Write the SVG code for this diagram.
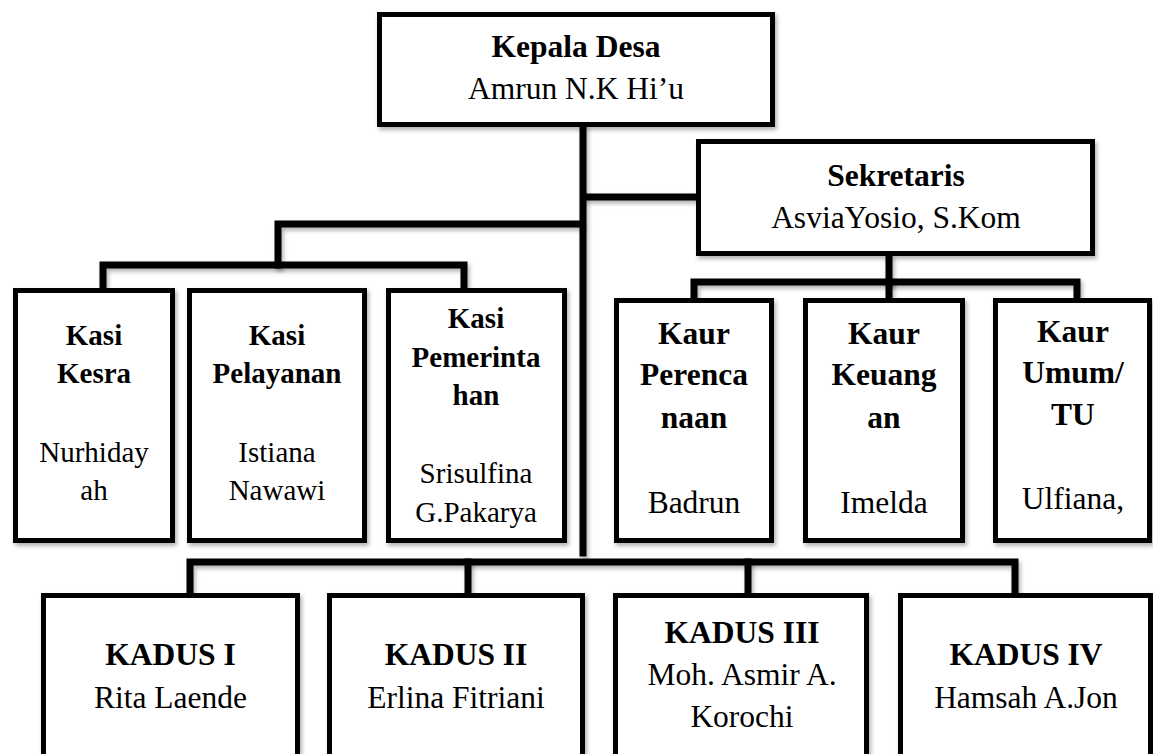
<svg xmlns="http://www.w3.org/2000/svg" width="1153" height="754" viewBox="0 0 1153 754">
<defs>
<filter id="sh" filterUnits="userSpaceOnUse" x="0" y="0" width="1153" height="754">
<feDropShadow dx="2" dy="3" stdDeviation="2" flood-color="#000" flood-opacity="0.3"/>
</filter>
<style>
.box{fill:#fff;stroke:#000;stroke-width:5;filter:url(#sh)}
.ln{fill:none;stroke:#000;stroke-width:7;stroke-linejoin:miter;stroke-linecap:square;filter:url(#sh)}
text{fill:#000;text-anchor:middle}
.b{font-weight:bold}
.f31{font-size:31.5px}
.f29{font-size:29px}
</style>
</defs>
<rect width="1153" height="754" fill="#fff"/>
<g id="connectors">
<path class="ln" d="M583,127 V553"/>
<path class="ln" d="M587,197 H697"/>
<path class="ln" d="M579,224 H278 V265"/>
<path class="ln" d="M103,287 V265 H464 V287"/>
<path class="ln" d="M889,258 V282"/>
<path class="ln" d="M694,297 V282 H1077 V297"/>
<path class="ln" d="M889,282 V297"/>
<path class="ln" d="M190,592 V562 H1015 V592"/>
<path class="ln" d="M468,562 V592"/>
<path class="ln" d="M748,562 V592"/>
</g>
<g font-family="'Liberation Serif', 'Times New Roman', 'DejaVu Serif', serif">
<g id="kepala-desa">
<rect class="box" x="379.5" y="14.5" width="393" height="110"/>
<text class="f31 b" x="576" y="57">Kepala Desa</text>
<text class="f31" x="576" y="99">Amrun N.K Hi’u</text>
</g>
<g id="sekretaris">
<rect class="box" x="698.5" y="141.5" width="394" height="112"/>
<text class="f31 b" x="896" y="186">Sekretaris</text>
<text class="f31" x="896" y="228">AsviaYosio, S.Kom</text>
</g>
<g id="kasi-kesra">
<rect class="box" x="15.5" y="290.5" width="157" height="250"/>
<text class="f29 b" x="94" y="345">Kasi</text>
<text class="f29 b" x="94" y="383">Kesra</text>
<text class="f29" x="94" y="462">Nurhiday</text>
<text class="f29" x="94" y="500">ah</text>
</g>
<g id="kasi-pelayanan">
<rect class="box" x="189.5" y="290.5" width="175" height="250"/>
<text class="f29 b" x="277" y="345">Kasi</text>
<text class="f29 b" x="277" y="383">Pelayanan</text>
<text class="f29" x="277" y="462">Istiana</text>
<text class="f29" x="277" y="500">Nawawi</text>
</g>
<g id="kasi-pemerintahan">
<rect class="box" x="388.5" y="290.5" width="176" height="250"/>
<text class="f29 b" x="476" y="328">Kasi</text>
<text class="f29 b" x="476" y="367">Pemerinta</text>
<text class="f29 b" x="476" y="405">han</text>
<text class="f29" x="476" y="483">Srisulfina</text>
<text class="f29" x="476" y="522">G.Pakarya</text>
</g>
<g id="kaur-perencanaan">
<rect class="box" x="616.5" y="300.5" width="155" height="240"/>
<text class="f31 b" x="694" y="344">Kaur</text>
<text class="f31 b" x="694" y="385">Perenca</text>
<text class="f31 b" x="694" y="428">naan</text>
<text class="f31" x="694" y="513">Badrun</text>
</g>
<g id="kaur-keuangan">
<rect class="box" x="805.5" y="300.5" width="157" height="240"/>
<text class="f31 b" x="884" y="344">Kaur</text>
<text class="f31 b" x="884" y="385">Keuang</text>
<text class="f31 b" x="884" y="428">an</text>
<text class="f31" x="884" y="513">Imelda</text>
</g>
<g id="kaur-umum">
<rect class="box" x="995.5" y="300.5" width="154" height="240"/>
<text class="f31 b" x="1073" y="342">Kaur</text>
<text class="f31 b" x="1073" y="383">Umum/</text>
<text class="f31 b" x="1073" y="425">TU</text>
<text class="f31" x="1073" y="509">Ulfiana,</text>
</g>
<g id="kadus-1">
<rect class="box" x="43.5" y="595.5" width="254" height="175"/>
<text class="f31 b" x="170.5" y="665">KADUS I</text>
<text class="f31" x="170.5" y="708">Rita Laende</text>
</g>
<g id="kadus-2">
<rect class="box" x="329.5" y="595.5" width="253" height="175"/>
<text class="f31 b" x="456" y="665">KADUS II</text>
<text class="f31" x="456" y="708">Erlina Fitriani</text>
</g>
<g id="kadus-3">
<rect class="box" x="615.5" y="595.5" width="251" height="175"/>
<text class="f31 b" x="742" y="643">KADUS III</text>
<text class="f31" x="742" y="685">Moh. Asmir A.</text>
<text class="f31" x="742" y="727">Korochi</text>
</g>
<g id="kadus-4">
<rect class="box" x="900.5" y="595.5" width="250" height="175"/>
<text class="f31 b" x="1026" y="665">KADUS IV</text>
<text class="f31" x="1026" y="708">Hamsah A.Jon</text>
</g>
</g>
</svg>
